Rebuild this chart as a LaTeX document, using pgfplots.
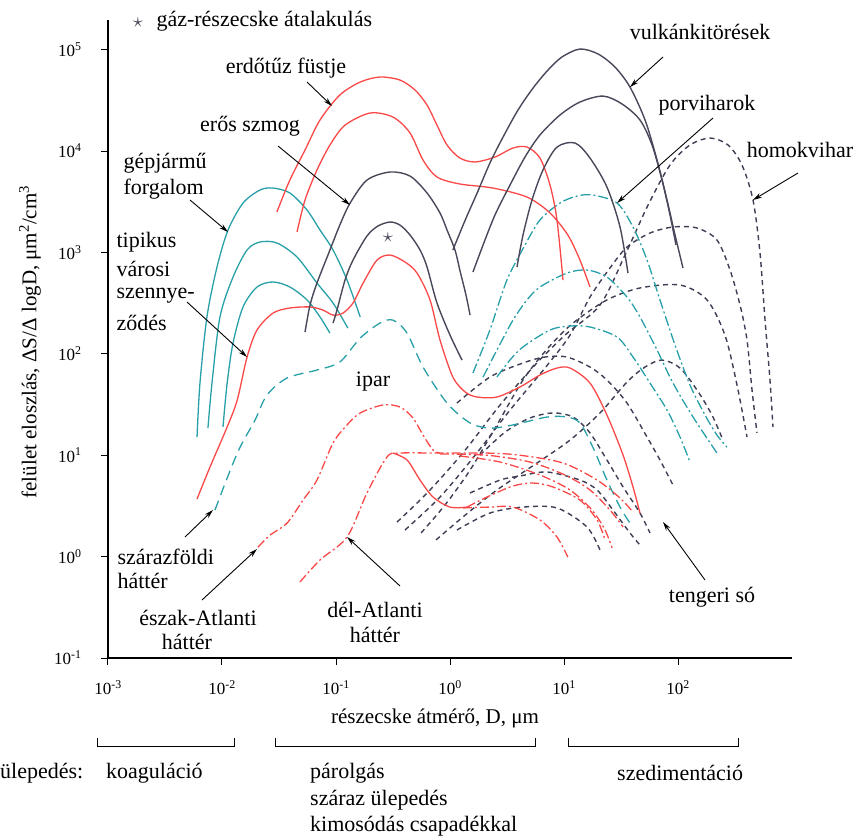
\documentclass[border=0pt]{standalone}
\usepackage{pgfplots}
\pgfplotsset{compat=1.18}
\usepackage{fontspec}
\setmainfont{Liberation Serif}
\usetikzlibrary{arrows.meta}
\definecolor{cred}{RGB}{250,72,72}
\definecolor{ccyan}{RGB}{40,160,168}
\definecolor{cdark}{RGB}{72,72,90}
\definecolor{cdash}{RGB}{62,62,85}
\begin{document}
\begin{tikzpicture}
\path[use as bounding box] (0pt,0pt) rectangle (858pt,-838pt);
\begin{axis}[
  at={(108pt,-658pt)}, anchor=south west,
  scale only axis, width=684pt, height=638pt,
  xmode=log, ymode=log,
  xmin=1e-3, xmax=1e3, ymin=1e-1, ymax=1.96e5,
  axis x line*=bottom, axis y line*=left,
  axis line style={line width=1.2pt,-},
  xtick={1e-3,1e-2,1e-1,1,1e1,1e2},
  xticklabels={10\textsuperscript{-3},10\textsuperscript{-2},10\textsuperscript{-1},10\textsuperscript{0},10\textsuperscript{1},10\textsuperscript{2}},
  ytick={1e-1,1,1e1,1e2,1e3,1e4,1e5},
  yticklabels={10\textsuperscript{-1},10\textsuperscript{0},10\textsuperscript{1},10\textsuperscript{2},10\textsuperscript{3},10\textsuperscript{4},10\textsuperscript{5}},
  xminorticks=false, yminorticks=false,
  tick align=outside, major tick length=7pt,
  tick style={line width=1pt,black},
  ticklabel style={font=\fontsize{17}{17}\selectfont},
  xticklabel style={yshift=-12pt},
  yticklabel style={xshift=-16pt},
  clip=false,
  every axis plot/.append style={smooth, tension=0.5, line width=1.3pt, mark=none},
  rs/.style={color=cred, solid},
  rdd/.style={color=cred, dash pattern=on 9pt off 3pt on 2pt off 3pt},
  cs/.style={color=ccyan, solid},
  cdd/.style={color=ccyan, dash pattern=on 10pt off 3pt on 2pt off 3pt},
  cda/.style={color=ccyan, dash pattern=on 10pt off 6pt},
  ks/.style={color=cdark, solid, line width=1.4pt},
  kda/.style={color=cdash, dash pattern=on 5pt off 4pt, line width=1.4pt},
]
% --- dark dashed: homokvihar and tengeri so
\addplot[kda] coordinates {(3.43e-1,2.19)(6.68e-1,4.54)(1.36,11.25)(2.75,31.3)(5.57,77.6)(10.2,153)(20.7,303)(34.3,942)(54.6,2931)(85.1,7280)(127.4,11460)(191,13430)(275,11460)(364,7280)(455,3289)(524,986)(580,215)(641,55.2)(681,19.0)};
\addplot[kda] coordinates {(4.03e-1,1.83)(8.17e-1,3.87)(1.66,10.0)(3.36,27.9)(6.81,72.4)(11.3,153)(16.9,363)(25.3,702)(35.7,1130)(56.8,1553)(90.4,1782)(146.8,1741)(219.8,1325)(286,670)(350,303)(403,137)(446,44.0)(493,16.6)};
\addplot[kda] coordinates {(5.57e-1,1.71)(9.04e-1,3.23)(1.50,7.14)(2.58,19.9)(4.37,55.2)(7.24,114)(12.0,201)(23.8,340)(46.4,446)(104.2,477)(179.6,340)(258,153)(329.5,49.2)(403,15.1)};
\addplot[kda] coordinates {(7.54e-1,1.46)(1.36,2.57)(2.58,4.54)(5.80,8.38)(11.3,14.1)(20.7,26.1)(35.7,52.7)(51.4,74.1)(72.4,86.9)(104.2,72.4)(146.8,44.0)(198.7,24.9)(248,14.1)};
\addplot[kda] coordinates {(1.15,32.7)(2.24,59.0)(4.37,81.2)(6.81,93.0)(10.6,93.0)(16.9,74.1)(23.8,55.2)(35.7,32.7)(53.5,15.1)(69.5,8.97)(90.4,5.08)};
\addplot[kda] coordinates {(1.83,10.0)(3.04,16.9)(5.03,23.3)(8.01,26.1)(12.0,23.8)(16.9,16.6)(23.8,8.97)(33.0,4.86)(46.4,2.69)(56.8,1.71)};
\addplot[kda] coordinates {(1.50,4.24)(2.75,5.69)(4.11,6.24)(7.10,6.83)(13.8,5.69)(19.5,4.54)(26.9,2.88)(37.9,1.71)(46.4,1.30)};
\addplot[kda] coordinates {(1.15,1.83)(2.24,2.69)(4.37,3.08)(8.68,3.02)(15.9,1.96)(20.7,1.16)};
% --- cyan: gepjarmu forgalom (solid)
\addplot[cs] coordinates {(6.04e-3,15.1)(6.41e-3,51.5)(7.38e-3,231)(9.04e-3,718)(1.13e-2,1663)(1.53e-2,3069)(2.15e-2,4121)(2.80e-2,4315)(3.94e-2,3855)(5.57e-2,2618)(7.24e-2,1663)(9.42e-2,1057)(1.25e-1,534)(1.63e-1,231)};
\addplot[cs] coordinates {(7.53e-3,18.5)(8.17e-3,51.5)(9.60e-3,231)(1.25e-2,572)(1.66e-2,1057)(2.15e-2,1267)(3.03e-2,1239)(4.55e-2,901)(6.81e-2,499)(9.42e-2,317)(1.27e-1,179.5)};
\addplot[cs] coordinates {(1.02e-2,19.0)(1.11e-2,51.5)(1.25e-2,128)(1.53e-2,290)(2.03e-2,456)(2.80e-2,511)(3.94e-2,456)(5.57e-2,340)(7.24e-2,231)(8.85e-2,160)};
% --- cyan: szarazfoldi hatter (dashed)
\addplot[cda] coordinates {(8.68e-3,2.88)(1.11e-2,5.96)(1.44e-2,12.0)(1.95e-2,22.2)(2.48e-2,39.2)(3.72e-2,57.7)(6.81e-2,69.2)(1.08e-1,83.0)(1.63e-1,143)(2.43e-1,201)(3.16e-1,215)(4.20e-1,160)(5.80e-1,74.1)(9.42e-1,32.7)(1.50,20.8)(2.24,18.5)(3.57,19.9)(7.10,23.8)(10.6,23.8)(13.8,20.8)(17.9,12.0)(23.8,5.69)(31.0,3.08)(37.9,2.14)};
% --- cyan: porviharok (dash-dot)
\addplot[cdd] coordinates {(1.59,64.7)(2.24,172)(3.16,534)(4.55,1183)(6.15,2088)(9.22,3069)(13.0,3597)(17.9,3681)(29.2,3069)(40.3,1782)(53.5,841)(69.5,340)(94.2,122)(127.4,49.2)(172.6,24.9)(219.8,15.8)(269,12.0)};
\addplot[cdd] coordinates {(1.95,59.0)(2.58,109)(3.57,215)(4.74,340)(6.15,456)(10.6,626)(15.9,670)(23.8,572)(35.7,363)(46.4,231)(65.5,109)(90.4,51.5)(135.5,23.8)(219.8,10.5)};
\addplot[cdd] coordinates {(2.58,59.0)(3.36,86.9)(4.37,117)(7.54,172)(11.3,188)(16.9,184)(29.2,146.5)(40.3,93.0)(56.8,51.5)(80.1,27.9)(104.2,15.1)(127.4,8.57)};
% --- red solid: tipikus varosi szennyezodes
\addplot[rs] coordinates {(6.04e-3,3.70)(7.85e-3,7.65)(1.11e-2,19.0)(1.36e-2,35.0)(1.66e-2,93.0)(2.03e-2,172)(2.80e-2,252)(3.94e-2,283)(5.92e-2,290)(7.69e-2,270)(9.42e-2,241)(1.15e-1,252)(1.41e-1,317)(1.73e-1,499)(2.29e-1,841)(2.98e-1,942)(4.03e-1,804)(5.14e-1,626)(6.68e-1,340)(8.17e-1,137)(1.06,59.0)(1.36,42.0)(1.73,37.5)(2.58,37.5)(4.11,47.1)(6.15,61.8)(8.68,72.4)(11.3,72.4)(16.9,51.5)(23.8,24.9)(33.0,10.0)(40.3,4.86)(46.4,2.69)};
% --- red solid: erdotuz fustje
\addplot[rs] coordinates {(3.03e-2,2503)(3.94e-2,5176)(5.35e-2,10230)(7.24e-2,20230)(1.08e-1,35650)(1.63e-1,47900)(2.43e-1,53700)(3.64e-1,50100)(4.93e-1,40000)(6.29e-1,28400)(7.69e-1,18000)(9.42e-1,11460)(1.22,8530)(1.66,7800)(2.48,8730)(3.57,10710)(4.74,10940)(6.15,8530)(7.54,4620)(8.68,2088)(9.80,534)};
\addplot[rs] coordinates {(4.55e-2,1589)(5.35e-2,3289)(6.81e-2,6500)(8.85e-2,11460)(1.20e-1,18000)(1.99e-1,23700)(3.16e-1,21630)(4.46e-1,15060)(5.80e-1,8150)(7.69e-1,5540)(1.22,4730)(2.38,4315)(4.74,3516)(7.54,2449)(10.8,1486)(13.8,841)(16.9,456)};
% --- red dash-dot: ipar / eszak-Atlanti, del-Atlanti, tengeri so
\addplot[rdd] coordinates {(2.07e-2,1.24)(2.64e-2,1.63)(3.72e-2,2.14)(5.14e-2,3.61)(6.81e-2,5.69)(9.42e-2,13.2)(1.25e-1,19.9)(1.63e-1,26.1)(2.58e-1,31.3)(3.64e-1,29.9)(4.73e-1,23.3)(5.80e-1,15.8)(7.10e-1,11.25)(8.17e-1,10.5)};
\addplot[rdd] coordinates {(4.83e-2,0.562)(7.24e-2,0.926)(1.25e-1,1.56)(1.87e-1,4.24)(2.80e-1,9.60)(3.64e-1,10.5)(8.17e-1,10.5)(2.11,10.5)(4.11,10.0)(9.80,8.38)(19.5,5.69)(31.0,3.78)(40.3,2.75)};
\addplot[rdd] coordinates {(8.17e-1,10.3)(2.11,10.0)(5.03,8.57)(10.2,6.38)(16.9,4.54)(25.3,2.88)(33.0,1.96)};
\addplot[rdd] coordinates {(1.22,9.82)(2.75,8.57)(6.15,6.38)(11.3,4.54)(17.6,2.88)(22.9,1.83)(26.4,1.22)};
\addplot[rs] coordinates {(3.16e-1,10.5)(4.20e-1,8.97)(5.46e-1,5.69)(7.10e-1,3.87)(1.00,3.08)(1.41,3.08)};
\addplot[rdd] coordinates {(1.41,3.08)(2.11,3.87)(3.57,4.97)(5.35,5.32)(8.01,4.86)(13.8,3.61)(19.5,2.30)(22.9,1.46)};
\addplot[rdd] coordinates {(1.30,3.02)(2.24,3.08)(3.57,3.08)(6.15,2.30)(8.68,1.56)(10.8,0.991)};
% --- dark solid: eros szmog
\addplot[ks] coordinates {(5.35e-2,164)(5.92e-2,303)(6.81e-2,499)(8.85e-2,1057)(1.08e-1,1862)(1.33e-1,3069)(1.87e-1,5176)(2.98e-1,6210)(4.46e-1,5665)(6.29e-1,3855)(8.17e-1,2449)(9.42e-1,1663)(1.106,1057)(1.22,670)(1.381,380)(1.50,241)};
\addplot[ks] coordinates {(9.42e-2,201)(1.02e-1,270)(1.20e-1,534)(1.41e-1,841)(1.87e-1,1452)(2.33e-1,1820)(2.98e-1,1995)(3.64e-1,1862)(4.46e-1,1486)(5.46e-1,1057)(6.29e-1,718)(7.69e-1,317)(1.00,153)(1.274,86.9)};
% --- dark solid: vulkankitoresek
\addplot[ks] coordinates {(1.06,1057)(1.36,2088)(1.73,3855)(2.24,7620)(2.92,13740)(3.95,25360)(5.35,41800)(7.24,62950)(9.60,84600)(13.8,101400)(19.9,90600)(28.0,67300)(37.9,42760)(51.4,20230)(65.5,8150)(80.1,3289)(94.2,1486)(110.6,702)};
\addplot[ks] coordinates {(1.59,641)(1.95,1183)(2.48,2339)(3.36,4620)(4.55,8730)(6.15,14390)(9.22,22650)(13.8,30410)(22.0,34830)(32.3,29110)(46.4,20230)(59.2,11460)(72.4,5176)(85.1,2339)(96.0,1183)};
\addplot[ks] coordinates {(3.87,718)(4.37,1486)(5.24,3289)(6.54,6500)(8.68,10940)(12.5,12000)(16.9,8530)(23.8,4416)(31.0,1782)(36.4,626)};
\end{axis}
\begin{scope}[x=1pt,y=-1pt,font=\fontsize{22}{26}\selectfont]
\tikzset{arr/.style={-{Stealth[length=9pt,width=5pt]}, line width=0.9pt, black}}
% stars
\node[text=cdark, font=\fontsize{20}{20}\selectfont] at (138,23) {$\star$};
\node[anchor=west] at (153,21) {gáz-részecske átalakulás};
\node[text=cdark, font=\fontsize{20}{20}\selectfont] at (388,238) {$\star$};
% labels
\node at (286,68) {erdőtűz füstje};
\draw[arr] (307,82) -- (332,106);
\node at (250,126) {erős szmog};
\draw[arr] (278,146) -- (350,205);
\node[anchor=west] at (120,163) {gépjármű};
\node[anchor=west] at (120,189) {forgalom};
\draw[arr] (190,200) -- (228,232);
\node[anchor=west] at (113,242) {tipikus};
\node[anchor=west] at (113,269) {városi};
\node[anchor=west] at (113,296) {szennye-};
\node[anchor=west] at (113,323) {ződés};
\draw[arr] (187,302) -- (247,357);
\node at (373,382) {ipar};
\node[anchor=west] at (114,557) {szárazföldi};
\node[anchor=west] at (114,581) {háttér};
\draw[arr] (185,537) -- (213,510);
\node at (198,618) {észak-Atlanti};
\node at (187,642) {háttér};
\draw[arr] (202,600) -- (257,549);
\node at (375,610) {dél-Atlanti};
\node at (375,635) {háttér};
\draw[arr] (400,586) -- (347,537);
\node at (700,32) {vulkánkitörések};
\draw[arr] (663,57) -- (630,87);
\node at (707,105) {porviharok};
\draw[arr] (713,118) -- (617,203);
\node at (800,150) {homokvihar};
\draw[arr] (798,173) -- (753,200);
\node at (712,597) {tengeri só};
\draw[arr] (705,580) -- (663,522);
% axis labels
\node[font=\fontsize{21}{21}\selectfont] at (435,718) {részecske átmérő, D, μm};
\node[rotate=90, font=\fontsize{21}{21}\selectfont] at (30,342) {felület eloszlás, ΔS/Δ logD, μm\textsuperscript{2}/cm\textsuperscript{3}};
% bottom brackets and processes
\draw[line width=1pt] (97,738) -- (97,746) -- (234,746) -- (234,738);
\draw[line width=1pt] (275,738) -- (275,746) -- (535,746) -- (535,738);
\draw[line width=1pt] (568,738) -- (568,746) -- (738,746) -- (738,738);
\node[anchor=west, inner sep=0pt] at (0,773) {ülepedés:};
\node[anchor=west, inner sep=0pt] at (106,773) {koaguláció};
\node[anchor=west, inner sep=0pt] at (310,773) {párolgás};
\node[anchor=west, inner sep=0pt] at (310,800) {száraz ülepedés};
\node[anchor=west, inner sep=0pt] at (310,826) {kimosódás csapadékkal};
\node[anchor=west, inner sep=0pt] at (617,773) {szedimentáció};
\end{scope}
\end{tikzpicture}
\end{document}
